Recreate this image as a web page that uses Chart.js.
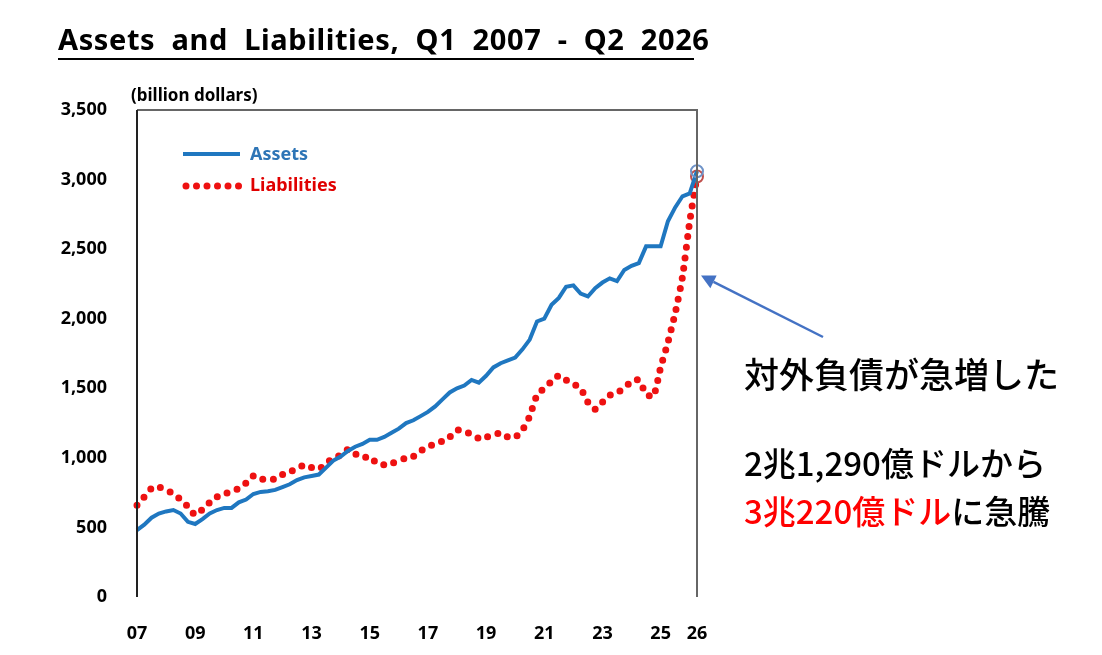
<!DOCTYPE html>
<html><head><meta charset="utf-8">
<script src="https://cdn.jsdelivr.net/npm/chart.js@4"></script>
<style>
body{margin:0;width:1102px;height:655px;background:#fff;position:relative;overflow:hidden;font-family:"Noto Sans CJK JP","Noto Sans",sans-serif}
#c{position:absolute;left:0;top:0}
.t{position:absolute;white-space:nowrap}
</style></head><body>
<canvas id="c" width="1102" height="655"></canvas>
<div class="t" style="left:58px;top:20px;font:bold 29px 'Noto Sans','DejaVu Sans',sans-serif;letter-spacing:0.6px;border-bottom:2px solid #000;line-height:38px;width:636px">Assets &nbsp;and &nbsp;Liabilities, &nbsp;Q1 &nbsp;2007 &nbsp;- &nbsp;Q2 &nbsp;2026</div>
<div class="t" style="left:131px;top:83px;font:bold 17px 'Noto Sans',sans-serif">(billion dollars)</div>
<div class="t" style="left:250px;top:141px;font:bold 18px 'Noto Sans',sans-serif;color:#2e75b6">Assets</div>
<div class="t" style="left:250px;top:172px;font:bold 18px 'Noto Sans',sans-serif;color:#e00000">Liabilities</div>
<div class="t" style="left:744px;top:350px;font:500 35px 'Noto Sans CJK JP';line-height:46px;color:#000">対外負債が急増した</div>
<div class="t" style="left:744px;top:439px;font:500 33px 'Noto Sans CJK JP';line-height:46px;color:#000">2兆1,290億ドルから</div>
<div class="t" style="left:744px;top:487px;font:500 33px 'Noto Sans CJK JP';line-height:46px;color:#000"><span style="color:#ff0000">3兆220億ドル</span>に急騰</div>
<script>
const years = ['07','08','09','10','11','12','13','14','15','16','17','18','19','20','21','22','23','24','25','26'];
const assets = [481,520,570,600, 615,625,600,540, 525,560,600,625, 640,640,680,700, 740,755,760,770, 790,810,840,860, 870,880,930,980, 1010,1050,1080,1100, 1130,1130,1150,1180, 1210,1250,1270,1300, 1330,1370,1420,1470, 1500,1520,1560,1540, 1590,1650,1680,1700, 1720,1780,1850,1980, 2000,2100,2150,2230, 2240,2180,2160,2220, 2260,2290,2270,2350, 2380,2400,2520,2520, 2520,2700,2800,2880, 2900,3060];
const liabilities = [660,720,780,790, 770,740,700,650, 590,630,680,720, 740,760,780,820, 870,850,840,850, 880,900,920,950, 930,920,960,1000, 1020,1060,1030,1000, 1010,960,950,960, 980,1000,1010,1050, 1080,1100,1120,1150, 1200,1190,1170,1140, 1150,1160,1180,1150, 1150,1200,1300,1450, 1500,1550,1590,1560, 1530,1500,1400,1350, 1400,1450,1470,1500, 1550,1560,1460,1440, 1650,1830,2040,2300, 2700,3022];
const labels = [];
years.forEach(y => { for (let q = 1; q <= 4; q++) labels.push(y + 'Q' + q); });
labels.length = assets.length;
const tickShown = (i) => {
  const l = labels[i]; const yr = parseInt(l.slice(0,2));
  if (i === labels.length - 1) return '26';
  if (l.endsWith('Q1') && yr % 2 === 1) return l.slice(0,2);
  return '';
};
const last = assets.length - 1;
const radiusArr = (n) => assets.map((_, i) => i === last ? n : 0);

const frame = {
  id: 'frame',
  afterDraw(ch) {
    const {ctx, chartArea: a, scales} = ch;
    ctx.save();
    ctx.strokeStyle = '#666'; ctx.lineWidth = 2;
    ctx.beginPath(); ctx.moveTo(a.left, a.top); ctx.lineTo(a.right, a.top); ctx.lineTo(a.right, a.bottom); ctx.stroke();
    ctx.strokeStyle = '#222';
    ctx.beginPath(); ctx.moveTo(a.left, a.top); ctx.lineTo(a.left, a.bottom); ctx.stroke();
    ctx.strokeStyle = '#1f77c0'; ctx.lineWidth = 4;
    ctx.beginPath(); ctx.moveTo(183, 154); ctx.lineTo(240, 154); ctx.stroke();
    ctx.fillStyle = '#ee1111';
    for (let x = 186; x <= 240; x += 10.5) { ctx.beginPath(); ctx.arc(x, 186, 3.5, 0, Math.PI*2); ctx.fill(); }
    const tx = scales.x.getPixelForValue(last) + 4, ty = scales.y.getPixelForValue(2310);
    const sx = 823, sy = 337;
    ctx.strokeStyle = '#4472c4'; ctx.fillStyle = '#4472c4'; ctx.lineWidth = 2.5;
    const ang = Math.atan2(ty - sy, tx - sx);
    const hx = tx - 14*Math.cos(ang), hy = ty - 14*Math.sin(ang);
    ctx.beginPath(); ctx.moveTo(sx, sy); ctx.lineTo(hx, hy); ctx.stroke();
    ctx.beginPath(); ctx.moveTo(tx, ty);
    ctx.lineTo(hx + 7*Math.sin(ang), hy - 7*Math.cos(ang));
    ctx.lineTo(hx - 7*Math.sin(ang), hy + 7*Math.cos(ang));
    ctx.closePath(); ctx.fill();
    ctx.restore();
  }
};

new Chart(document.getElementById('c'), {
  type: 'line',
  data: { labels, datasets: [
    { label: 'Assets', data: assets, borderColor: '#1f77c0', borderWidth: 4, tension: 0,
      pointRadius: radiusArr(6), pointBorderColor: '#6f93c8', pointBackgroundColor: 'rgba(0,0,0,0)', pointBorderWidth: 2 },
    { label: 'Liabilities', data: liabilities, borderColor: '#ee1111', borderWidth: 7, borderCapStyle: 'round',
      borderDash: [0, 10.5], tension: 0.2,
      pointRadius: radiusArr(6), pointBorderColor: '#c0504d', pointBackgroundColor: 'rgba(0,0,0,0)', pointBorderWidth: 2 }
  ]},
  options: {
    responsive: false, animation: false,
    layout: { padding: { left: 0, right: 405, top: 110, bottom: 0 } },
    plugins: { legend: { display: false }, tooltip: { enabled: false } },
    scales: {
      x: { offset: false, grid: { display: false }, border: { display: false },
        afterFit(s) { s.height = 58; },
        ticks: { autoSkip: false, maxRotation: 0, padding: 18, color: '#000',
          font: { family: 'Noto Sans', weight: 'bold', size: 18 },
          callback: (v, i) => tickShown(i) } },
      y: { min: 0, max: 3500, grid: { display: false }, border: { display: false },
        afterFit(s) { s.width = 137; },
        ticks: { stepSize: 500, padding: 22, color: '#000',
          font: { family: 'Noto Sans', weight: 'bold', size: 18 },
          callback: v => v.toLocaleString('en-US') } }
    }
  },
  plugins: [frame]
});
</script>
</body></html>
